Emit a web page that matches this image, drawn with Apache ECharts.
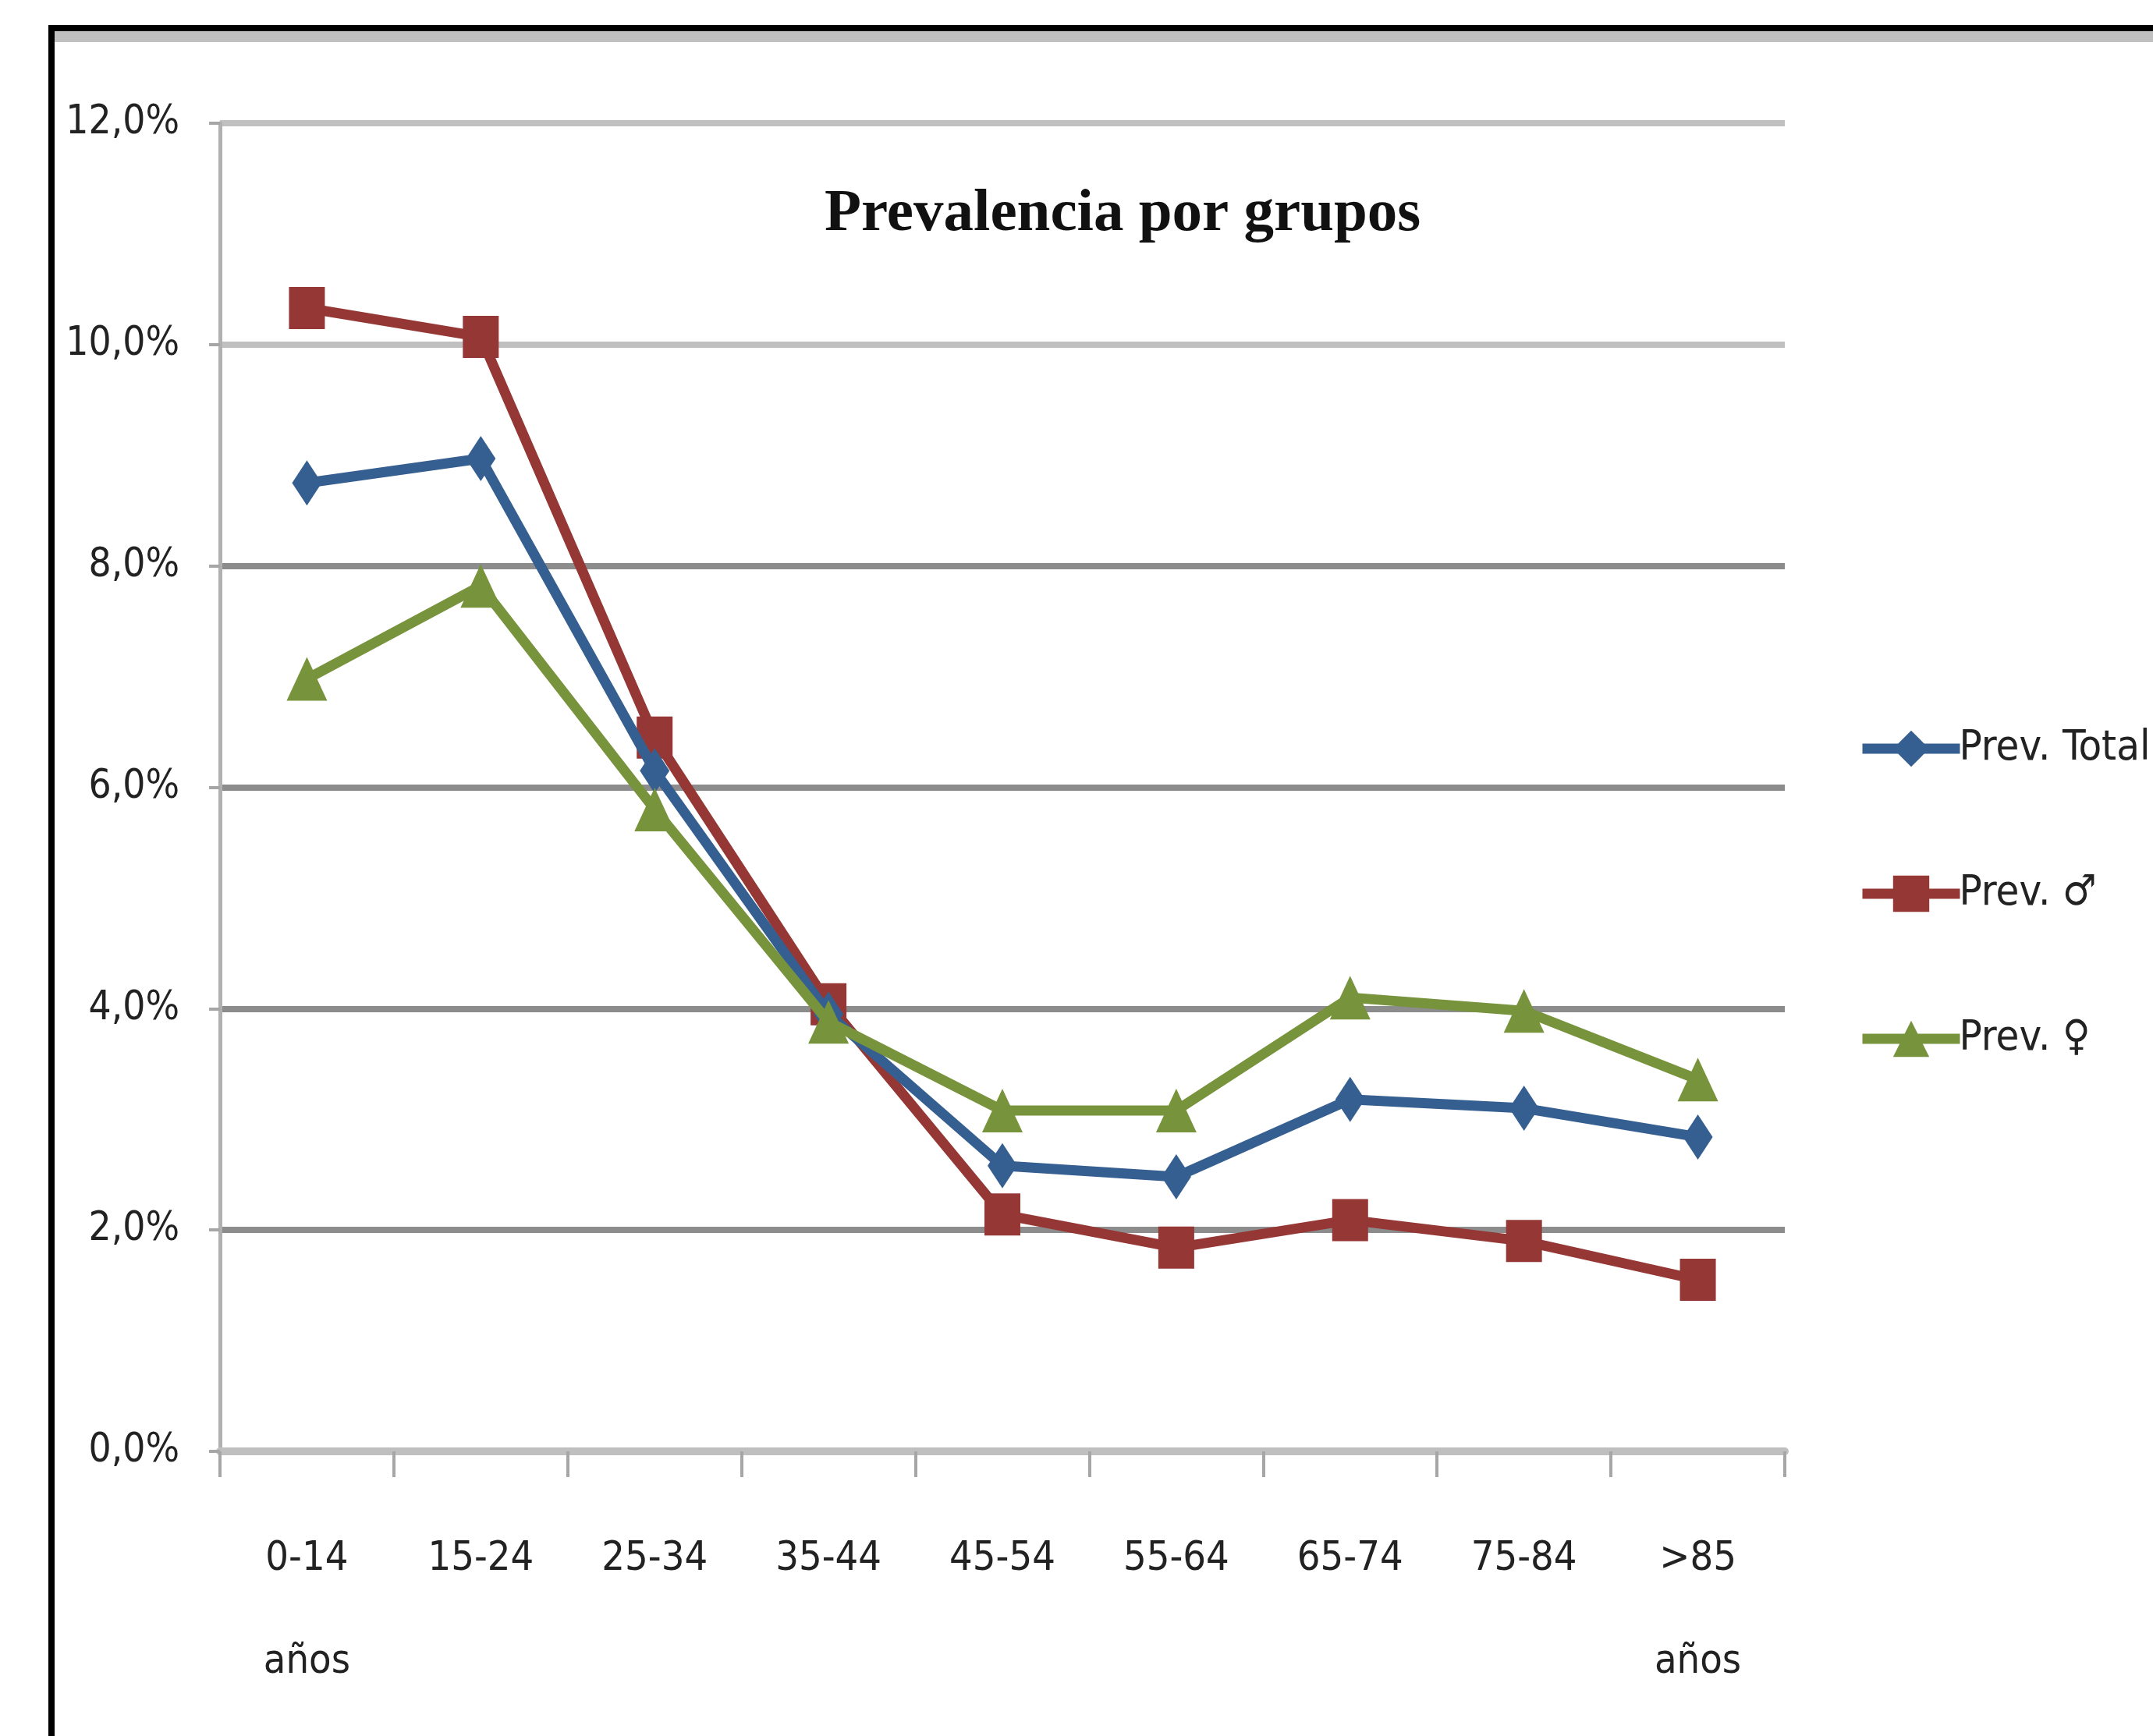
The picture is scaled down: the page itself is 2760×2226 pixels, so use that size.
<!DOCTYPE html>
<html>
<head>
<meta charset="utf-8">
<script src="https://cdn.jsdelivr.net/npm/echarts@6/dist/echarts.min.js"></script>
<style>
* { margin: 0; padding: 0; }
body { background: #fff; }
#main { width: 2760px; height: 2226px; }
</style>
</head>
<body>
<div id="main"></div>
<script>
// grupos de edad
const categories = ['0-14\naños', '15-24', '25-34', '35-44', '45-54', '55-64', '65-74', '75-84', '>85\naños'];
const yTickLabels = ['0,0%', '2,0%', '4,0%', '6,0%', '8,0%', '10,0%', '12,0%'];
// prevalencias (%)
const prevTotal = [8.75, 8.97, 6.15, 3.95, 2.58, 2.48, 3.18, 3.1, 2.84];
const prevHombre = [10.33, 10.07, 6.45, 4.04, 2.14, 1.84, 2.09, 1.9, 1.55];
const prevMujer = [6.98, 7.82, 5.8, 3.88, 3.08, 3.08, 4.1, 3.98, 3.36];

const narrow = '"Liberation Sans Narrow", "DejaVu Sans Condensed", "Liberation Sans", sans-serif';

const chart = echarts.init(document.getElementById('main'));
const option = {
  backgroundColor: '#fff',
  animation: false,
  title: {
    text: 'Prevalencia por grupos',
    left: 1052,
    top: 232,
    textStyle: {
      fontFamily: '"Liberation Serif", serif',
      fontWeight: 'bold',
      fontSize: 77,
      color: '#111'
    }
  },
  legend: {
    orient: 'vertical',
    left: 2376,
    top: 928,
    itemWidth: 125,
    itemHeight: 58,
    itemGap: 132,
    lineStyle: { width: 13 },
    textStyle: { fontFamily: narrow, fontSize: 54, color: '#222', padding: [0, 0, 0, -6] },
    data: ['Prev. Total', 'Prev. ♂', 'Prev. ♀']
  },
  graphic: [
    { type: 'rect', shape: { x: 62, y: 32, width: 2698, height: 8 }, style: { fill: '#000' } },
    { type: 'rect', shape: { x: 62, y: 32, width: 8, height: 2194 }, style: { fill: '#000' } },
    { type: 'rect', shape: { x: 70, y: 40, width: 2690, height: 14 }, style: { fill: '#c0c0c0' } }
  ],
  grid: { left: 282, right: 472, top: 158, bottom: 365, containLabel: false },
  xAxis: {
    type: 'category',
    data: categories,
    boundaryGap: true,
    axisLine: { show: true, lineStyle: { color: '#bfbfbf', width: 10 } },
    axisTick: { show: true, interval: 0, length: 33, lineStyle: { color: '#a6a6a6', width: 4 } },
    axisLabel: {
      interval: 0,
      margin: 72,
      fontFamily: narrow,
      fontSize: 52,
      lineHeight: 132,
      color: '#222'
    }
  },
  yAxis: {
    type: 'value',
    min: 0,
    max: 12,
    interval: 2,
    axisLine: { show: true, lineStyle: { color: '#b0b0b0', width: 5 } },
    axisTick: { show: true, length: 14, lineStyle: { color: '#a6a6a6', width: 4 } },
    axisLabel: {
      margin: 52,
      fontFamily: narrow,
      fontSize: 51,
      color: '#222',
      formatter: function (v) { return yTickLabels[Math.round(v / 2)]; }
    },
    splitLine: {
      show: true,
      lineStyle: {
        color: ['#c0c0c0', '#8c8c8c', '#8c8c8c', '#8c8c8c', '#8c8c8c', '#c0c0c0', '#c0c0c0'],
        width: 8
      }
    }
  },
  series: [
    {
      name: 'Prev. Total',
      type: 'line',
      data: prevTotal,
      symbol: 'diamond',
      symbolSize: [38, 58],
      itemStyle: { color: '#365f91' },
      lineStyle: { color: '#365f91', width: 13 },
      z: 3
    },
    {
      name: 'Prev. ♂',
      type: 'line',
      data: prevHombre,
      symbol: 'rect',
      symbolSize: [46, 54],
      itemStyle: { color: '#953735' },
      lineStyle: { color: '#953735', width: 13 },
      z: 2
    },
    {
      name: 'Prev. ♀',
      type: 'line',
      data: prevMujer,
      symbol: 'triangle',
      symbolSize: [52, 56],
      itemStyle: { color: '#77933c' },
      lineStyle: { color: '#77933c', width: 13 },
      z: 4
    }
  ]
};
chart.setOption(option);
</script>
</body>
</html>
